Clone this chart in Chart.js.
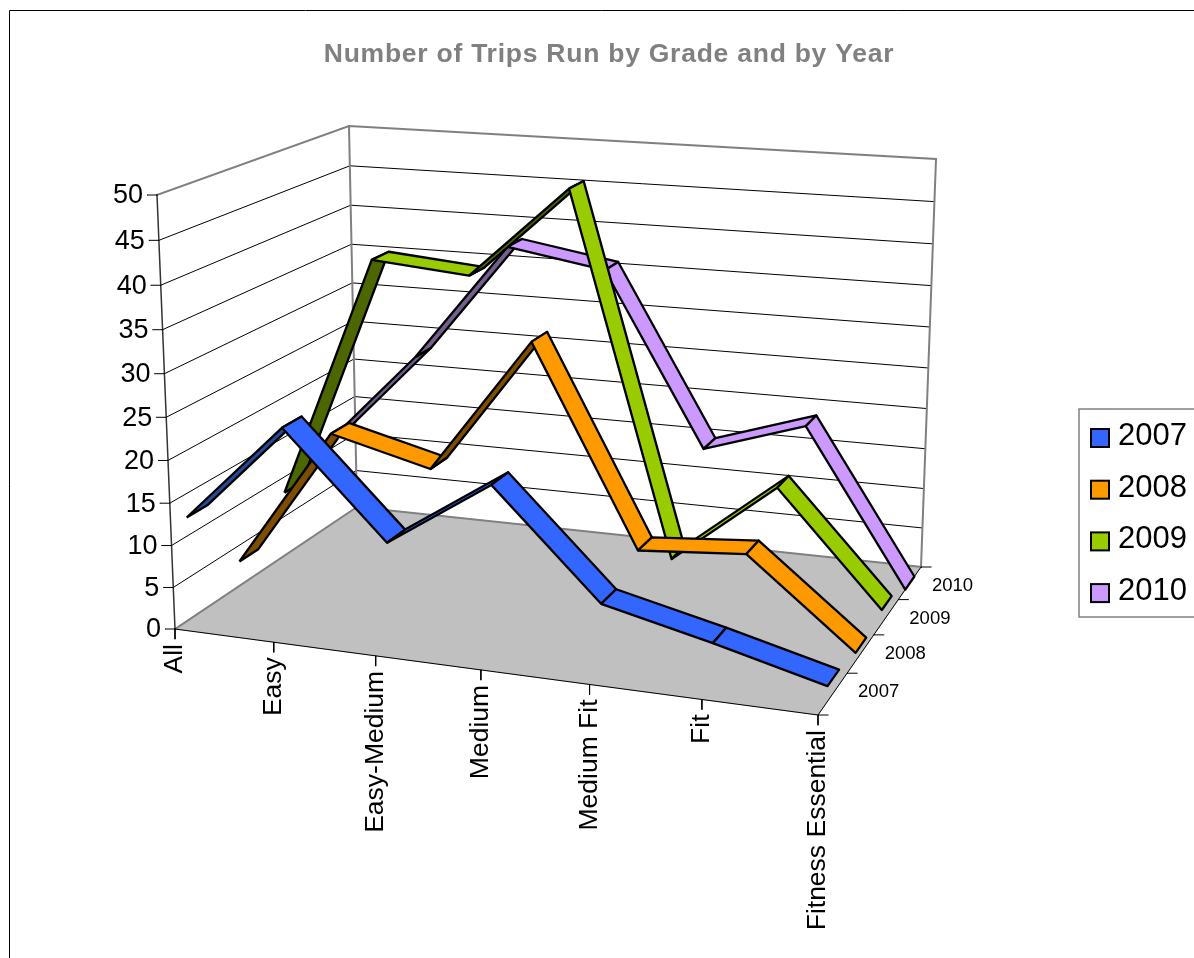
<!DOCTYPE html>
<html>
<head>
<meta charset="utf-8">
<title>Number of Trips Run by Grade and by Year</title>
<script src="https://cdn.jsdelivr.net/npm/chart.js@4"></script>
<style>
    html, body { margin: 0; padding: 0; background: #ffffff; overflow: hidden; }
    canvas { display: block; }
</style>
</head>
<body>
<canvas id="tripsChart" width="1194" height="958"></canvas>
<script>
const chartTitle = 'Number of Trips Run by Grade and by Year';
const categories = ['All', 'Easy', 'Easy-Medium', 'Medium', 'Medium Fit', 'Fit', 'Fitness Essential'];
const years = ['2007', '2008', '2009', '2010'];
const valueTicks = [0, 5, 10, 15, 20, 25, 30, 35, 40, 45, 50];

const trips2007 = [12.2, 24, 12, 20, 7.9, 5, 1.8];
const trips2008 = [3, 20, 17, 33, 10, 11, 1];
const trips2009 = [8, 38, 37, 48, 5, 15, 1.7];
const trips2010 = [11, 23.3, 38, 36, 15, 19, 0];
const tripsByYear = [trips2007, trips2008, trips2009, trips2010];

const lightColors = ['#3366FF', '#FF9900', '#99CC00', '#CC99FF'];
const darkColors = ['#264C99', '#7F4D00', '#4C6600', '#74608F'];

// Corners of the 3D box as they land on the page
const floorCorners = [[175, 629], [818, 715], [921, 567], [357, 507]];
const topCorners = [[157, 195], [832, 245], [936, 159], [349, 126]];

function makeHomography(q) {
    const [[x0, y0], [x1, y1], [x2, y2], [x3, y3]] = q;
    const dx1 = x1 - x2, dx2 = x3 - x2, sx = x0 - x1 + x2 - x3;
    const dy1 = y1 - y2, dy2 = y3 - y2, sy = y0 - y1 + y2 - y3;
    const den = dx1 * dy2 - dx2 * dy1;
    const g = (sx * dy2 - dx2 * sy) / den;
    const h = (dx1 * sy - sx * dy1) / den;
    const a = x1 - x0 + g * x1, b = x3 - x0 + h * x3;
    const d = y1 - y0 + g * y1, e = y3 - y0 + h * y3;
    return (u, w) => {
        const k = g * u + h * w + 1;
        return [(a * u + b * w + x0) / k, (d * u + e * w + y0) / k];
    };
}

const floorMap = makeHomography(floorCorners);
const topMap = makeHomography(topCorners);

// u = category position, value = trips, w = depth (0 front, 1 back)
function project(u, value, w) {
    const ue = u / (0.98 + 0.02 * u);
    const f = floorMap(ue, w), t = topMap(ue, w);
    const r = value / 50;
    const v = r / (1.05 - 0.05 * r); // the height axis is foreshortened too
    return { x: f[0] + (t[0] - f[0]) * v, y: f[1] + (t[1] - f[1]) * v };
}

function offset(p, dx, dy) {
    return { x: p.x + dx, y: p.y + dy };
}

const paint = [];

function addLine(points, color, width) {
    paint.push({
        data: points, showLine: true, borderColor: color, borderWidth: width,
        pointRadius: 0, fill: false, borderCapStyle: 'square'
    });
}

function addShape(label, points, fillColor, edgeColor, width) {
    paint.push({
        label: label, data: points.concat([points[0]]), showLine: true,
        borderColor: edgeColor, borderWidth: width, backgroundColor: fillColor,
        pointRadius: 0, fill: 'shape', borderJoinStyle: 'round'
    });
}

// Floor and walls
addShape('floor', [project(0, 0, 0), project(1, 0, 0), project(1, 0, 1), project(0, 0, 1)], '#C0C0C0', '#C0C0C0', 1);
valueTicks.slice(1, -1).forEach(t => {
    addLine([project(0, t, 0), project(0, t, 1), project(1, t, 1)], '#000000', 1);
});
addLine([project(0, 0, 0), project(0, 0, 1), project(1, 0, 1)], '#808080', 2);
addLine([project(0, 50, 0), project(0, 50, 1), project(1, 50, 1), project(1, 0, 1)], '#808080', 2);
addLine([project(0, 50, 1), project(0, 0, 1)], '#808080', 2);

// Axis lines and ticks
addLine([project(0, 50, 0), project(0, 0, 0)], '#333333', 1.5);
addLine([project(0, 0, 0), project(1, 0, 0), project(1, 0, 1)], '#000000', 1);
valueTicks.forEach(t => {
    const p = project(0, t, 0);
    addLine([offset(p, -10, 0), p], '#000000', 1);
});
categories.forEach((c, i) => {
    const p = project(i / (categories.length - 1), 0, 0);
    addLine([p, offset(p, 0, 10)], '#000000', 1);
});
years.concat(['']).forEach((y, i) => {
    const p = project(1, 0, i / years.length);
    addLine([p, offset(p, 10, 0)], '#000000', 1);
});

// Ribbons, back series first so the front ones paint over
const ribbonDepth = 0.1;
for (let s = years.length - 1; s >= 0; s--) {
    const mid = (s + 0.5) / years.length;
    const vals = tripsByYear[s];
    for (let i = 0; i < vals.length - 1; i++) {
        const u0 = i / (vals.length - 1), u1 = (i + 1) / (vals.length - 1);
        const quad = [
            project(u0, vals[i], mid - ribbonDepth / 2),
            project(u1, vals[i + 1], mid - ribbonDepth / 2),
            project(u1, vals[i + 1], mid + ribbonDepth / 2),
            project(u0, vals[i], mid + ribbonDepth / 2)
        ];
        let area = 0;
        quad.forEach((p, k) => {
            const n = quad[(k + 1) % 4];
            area += p.x * n.y - n.x * p.y;
        });
        // Flipped quad means we look at the underside
        addShape(years[s], quad, area > 0 ? darkColors[s] : lightColors[s], '#000000', 2.3);
    }
}

// Chart.js paints the first dataset last
const datasets = paint.reverse();

const labelsPlugin = {
    id: 'labelsPlugin',
    afterDraw(chart) {
        const ctx = chart.ctx, sx = chart.scales.x, sy = chart.scales.y;
        const px = p => ({ x: sx.getPixelForValue(p.x), y: sy.getPixelForValue(p.y) });
        ctx.save();

        // Outer frame
        ctx.strokeStyle = '#000000';
        ctx.lineWidth = 1;
        ctx.beginPath();
        ctx.moveTo(9.5, 958);
        ctx.lineTo(9.5, 10.5);
        ctx.lineTo(1194, 10.5);
        ctx.stroke();

        // Title
        ctx.fillStyle = '#808080';
        ctx.font = 'bold 26.5px "Liberation Sans"';
        ctx.letterSpacing = '0.75px';
        ctx.textAlign = 'center';
        ctx.textBaseline = 'middle';
        ctx.fillText(chartTitle, 609, 54.5);
        ctx.letterSpacing = '0px';

        // Value axis
        ctx.fillStyle = '#000000';
        ctx.font = '27px "Liberation Sans"';
        ctx.textAlign = 'right';
        valueTicks.forEach(t => {
            const p = px(project(0, t, 0));
            ctx.fillText(String(t), p.x - 14, p.y + 1);
        });

        // Category axis, turned upright
        ctx.font = '26.5px "Liberation Sans"';
        categories.forEach((c, i) => {
            const p = px(project(i / (categories.length - 1), 0, 0));
            ctx.save();
            ctx.translate(p.x, p.y + 15);
            ctx.rotate(-Math.PI / 2);
            ctx.textAlign = 'right';
            ctx.fillText(c, 0, 0);
            ctx.restore();
        });

        // Depth axis
        ctx.font = '18.5px "Liberation Sans"';
        ctx.textAlign = 'left';
        years.forEach((y, i) => {
            const p = px(project(1, 0, (i + 1) / years.length));
            ctx.fillText(y, p.x + 11, p.y + 19);
        });

        // Legend
        ctx.fillStyle = '#ffffff';
        ctx.strokeStyle = '#808080';
        ctx.lineWidth = 1.5;
        ctx.beginPath();
        ctx.moveTo(1195, 409);
        ctx.lineTo(1079, 409);
        ctx.lineTo(1079, 617);
        ctx.lineTo(1195, 617);
        ctx.fill();
        ctx.stroke();
        ctx.font = '31px "Liberation Sans"';
        ctx.textBaseline = 'middle';
        years.forEach((y, i) => {
            const top = 429 + i * 51.7;
            ctx.fillStyle = lightColors[i];
            ctx.strokeStyle = '#000000';
            ctx.lineWidth = 2;
            ctx.fillRect(1091, top, 18, 18);
            ctx.strokeRect(1091, top, 18, 18);
            ctx.fillStyle = '#000000';
            ctx.fillText(y, 1118, top + 7.5);
        });
        ctx.restore();
    }
};

new Chart(document.getElementById('tripsChart').getContext('2d'), {
    type: 'scatter',
    data: { datasets: datasets },
    options: {
        responsive: false,
        animation: false,
        layout: { padding: 0 },
        scales: {
            x: { type: 'linear', min: 0, max: 1194, display: false },
            y: { type: 'linear', min: 0, max: 958, reverse: true, display: false }
        },
        plugins: {
            legend: { display: false },
            title: { display: false },
            tooltip: { enabled: false }
        }
    },
    plugins: [labelsPlugin]
});
</script>
</body>
</html>
